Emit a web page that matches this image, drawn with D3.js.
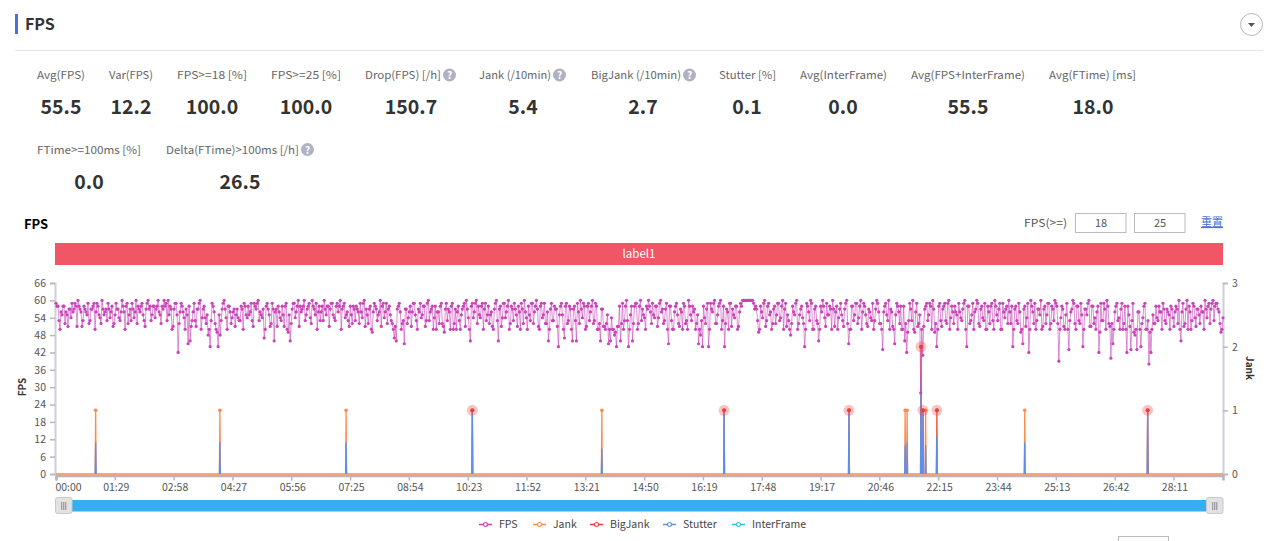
<!DOCTYPE html>
<html>
<head>
<meta charset="utf-8">
<script src="https://cdn.jsdelivr.net/npm/d3@7/dist/d3.min.js"></script>
<style>
  html, body { margin: 0; padding: 0; background: #fff; overflow: hidden; }
  text { font-family: "Noto Sans CJK SC", "Noto Sans", sans-serif; }
</style>
</head>
<body>
<svg id="page" width="1273" height="541"></svg>
<script>
// stats shown above the chart
var statLabels = ["Avg(FPS)", "Var(FPS)", "FPS>=18 [%]", "FPS>=25 [%]", "Drop(FPS) [/h]", "Jank (/10min)", "BigJank (/10min)", "Stutter [%]", "Avg(InterFrame)", "Avg(FPS+InterFrame)", "Avg(FTime) [ms]", "FTime>=100ms [%]", "Delta(FTime)>100ms [/h]"];
var statValues = ["55.5", "12.2", "100.0", "100.0", "150.7", "5.4", "2.7", "0.1", "0.0", "55.5", "18.0", "0.0", "26.5"];
var statHelp = [false, false, false, false, true, true, true, false, false, false, false, false, true];

// FPS, the dips and the spread of the band
var fpsValues = [
59,58,50,55,58,56,51,57,59,57,58,60,57,51,58,56,59,53,57,59,56,58,54,60,55,57,59,54,58,52,59,57,53,60,56,58,52,57,59,54,60,58,56,59,53,57,60,58,55,58,
57,60,55,58,60,59,60,58,50,57,59,42,56,58,54,57,45,46,53,59,51,57,60,54,58,52,48,44,59,56,50,44,48,57,60,54,58,56,54,57,55,54,53,57,59,55,58,56,53,59,
57,60,56,54,47,58,57,51,59,46,57,58,54,58,51,59,49,46,57,59,56,60,58,57,60,55,58,54,60,57,59,56,53,58,60,55,58,57,59,54,58,56,60,57,59,55,53,58,52,57,
58,56,59,54,60,57,52,58,49,59,57,55,60,58,54,59,57,55,52,47,46,58,56,52,45,57,54,58,56,59,53,57,59,55,58,53,60,56,58,54,50,56,58,52,49,59,57,50,59,52,
50,58,50,57,59,60,54,46,59,56,60,58,54,59,57,53,58,55,51,57,60,46,58,54,59,56,60,52,57,59,55,58,50,57,60,54,58,53,59,56,60,51,58,54,59,52,46,57,53,58,
57,44,58,55,47,59,53,57,46,58,46,56,60,54,58,51,59,56,60,53,58,50,46,57,51,52,45,46,50,48,44,51,46,59,53,60,44,55,46,58,59,52,60,57,54,58,60,56,59,54,
58,54,60,57,53,59,45,58,50,56,59,52,57,50,58,53,60,55,58,57,52,45,48,44,54,57,44,59,56,60,52,58,60,53,44,57,50,59,57,54,58,51,59,60,60,60,60,60,60,57,
57,49,58,54,60,53,59,56,52,58,55,59,54,60,57,51,53,48,58,55,60,52,57,54,44,59,56,60,50,57,53,46,58,60,54,59,55,57,60,51,58,54,59,53,57,60,45,50,58,55,
59,54,60,56,58,52,57,54,59,53,60,56,52,43,58,55,60,57,51,45,59,56,58,50,46,42,53,57,60,49,59,52,28,41,57,59,55,58,60,49,44,58,53,57,59,52,60,54,56,58,
55,59,54,57,60,44,58,53,59,56,60,52,57,54,59,50,56,58,53,60,55,57,50,59,54,58,60,52,44,57,53,59,49,45,58,54,42,60,56,59,53,57,60,51,58,55,59,52,57,60,
58,39,54,57,50,59,43,56,60,52,58,53,59,44,57,55,60,51,58,54,56,42,59,53,57,60,52,40,45,56,59,54,57,50,58,42,55,43,59,48,43,56,44,54,59,50,38,42,55,52,
54,58,56,59,53,57,55,58,54,56,57,60,46,59,52,60,58,50,59,54,57,55,58,56,60,54,59,57,60,58,59,56,49,54
];

// samples lying between the ones above, the band and its shorter dips
var fpsBetween = [
58,53,56,58,52,55,57,54,56,59,51,58,56,53,57,55,52,57,58,50,59,55,52,57,56,53,57,56,51,55,57,54,56,58,50,59,55,53,57,56,52,57,58,55,51,59,57,53,58,54,
58,56,52,57,58,53,55,57,51,59,55,52,59,56,50,55,58,51,56,53,57,59,50,57,54,55,50,53,58,52,49,55,53,59,57,50,58,52,56,51,57,53,58,50,58,54,55,59,51,58,
59,53,55,57,50,59,55,52,57,56,51,56,53,55,58,50,55,52,59,54,58,51,56,58,53,57,59,52,58,55,50,58,56,53,57,58,51,59,55,53,59,58,50,58,54,56,51,55,58,53,
57,52,56,59,51,55,57,50,56,58,53,56,51,59,56,52,58,53,50,51,57,59,50,53,57,52,56,51,59,55,50,56,54,58,51,59,53,57,50,58,56,52,59,51,57,53,56,58,50,57,
56,53,55,58,51,57,50,58,54,59,52,55,58,50,59,55,52,56,50,59,53,57,51,59,54,58,50,58,53,57,51,56,59,52,56,50,55,59,52,58,57,50,59,55,52,56,50,59,53,57,
51,55,59,50,58,52,58,50,57,53,59,52,57,59,50,58,53,58,52,59,50,52,57,51,50,55,50,54,50,49,51,58,52,50,58,53,50,58,52,59,50,58,53,55,50,57,58,52,55,58,
51,59,56,52,57,50,58,53,50,58,55,51,56,59,52,50,58,53,56,50,55,50,53,58,52,59,50,57,59,52,55,59,50,58,52,56,59,51,55,58,50,56,58,60,60,60,60,60,59,58,
53,50,56,59,51,58,55,50,57,52,59,53,58,50,59,55,50,52,56,59,50,55,58,52,50,58,53,59,50,58,52,50,56,58,51,55,58,50,57,56,50,57,55,51,59,52,50,58,53,59,
52,58,50,59,55,51,56,53,50,57,59,52,50,56,59,53,50,56,50,55,58,52,50,58,52,49,59,53,50,56,51,55,50,51,58,53,59,50,57,52,50,59,51,58,53,59,50,58,52,56,
50,56,53,59,50,58,52,55,50,57,59,51,58,53,50,58,52,59,50,58,53,59,50,56,57,52,56,58,50,58,52,56,50,57,51,59,50,58,52,50,57,55,50,57,52,59,50,58,53,59,
52,50,58,51,55,50,53,57,59,50,58,52,55,50,57,59,51,58,52,50,58,49,53,59,50,58,51,52,50,58,53,50,59,52,50,58,51,53,49,50,56,50,52,58,50,53,49,50,52,58,
53,56,50,57,52,56,50,57,51,58,52,50,56,51,57,50,56,53,58,51,57,52,56,50,57,58,52,59,53,59,57,52,50
];

// events on the right axis, times in seconds
var eventTimes = [60, 248, 439, 630, 826, 1011, 1200, 1285, 1288, 1309, 1312, 1316, 1333, 1466, 1652];
var jankValues = [1, 1, 1, 1, 1, 1, 1, 1, 1, 2, 1, 1, 1, 1, 1];
var bigJankValues = [0, 0, 0, 1, 0, 1, 1, 0, 0, 2, 1, 0, 1, 0, 1];
var stutterValues = [0.5, 0.5, 0.5, 1, 0.4, 1, 1, 0.45, 0.5, 1.55, 1, 0.45, 0.6, 0.5, 1];

var xTickLabels = ["00:00", "01:29", "02:58", "04:27", "05:56", "07:25", "08:54", "10:23", "11:52", "13:21", "14:50", "16:19", "17:48", "19:17", "20:46", "22:15", "23:44", "25:13", "26:42", "28:11"];
var fpsTicks = [0, 6, 12, 18, 24, 30, 36, 42, 48, 54, 60, 66];
var jankTicks = [0, 1, 2, 3];
var legendNames = ["FPS", "Jank", "BigJank", "Stutter", "InterFrame"];
var legendColors = ["#c944b8", "#ff8a4c", "#ee3a3a", "#5f8fe8", "#35bfe8"];

var totalSeconds = 1766;
var tickStep = 89;

var svg = d3.select("#page");

var x = d3.scaleLinear().domain([0, totalSeconds]).range([56, 1223]);
var yFps = d3.scaleLinear().domain([0, 66]).range([474, 283]);
var yJank = d3.scaleLinear().domain([0, 3]).range([474, 283]);

// header
svg.append("rect").attr("x", 15).attr("y", 14).attr("width", 3).attr("height", 20).attr("fill", "#4a6ee0");
svg.append("text").attr("x", 25).attr("y", 30).attr("font-size", 16).attr("font-weight", 700).attr("fill", "#333").text("FPS");
svg.append("line").attr("x1", 15).attr("x2", 1263).attr("y1", 50.5).attr("y2", 50.5).attr("stroke", "#e4e6ef");
svg.append("circle").attr("cx", 1251.5).attr("cy", 24.5).attr("r", 11).attr("fill", "#fff").attr("stroke", "#b4b6c6");
svg.append("path").attr("d", d3.line()([[1248, 23], [1255, 23], [1251.5, 27]])).attr("fill", "#555");

// stats, label left edges and value centres
var statLeft = [37, 109, 177, 271, 365, 479, 591, 719, 800, 911, 1049, 37, 166];
var statCentre = [61, 131, 212, 306, 411, 523, 643, 747, 843, 968, 1093, 89, 240];
var statRow = [0, 0, 0, 0, 0, 0, 0, 0, 0, 0, 0, 1, 1];
var statWidth = [48, 44, 70, 70, 76, 72, 90, 57, 87, 114, 87, 104, 133];

statLabels.forEach(function(label, i) {
  var top = statRow[i] * 74.5;
  svg.append("text")
    .attr("x", statLeft[i]).attr("y", 79 + top)
    .attr("font-size", 11).attr("fill", "#666")
    .attr("textLength", statWidth[i]).attr("lengthAdjust", "spacingAndGlyphs")
    .text(label);
  svg.append("text")
    .attr("x", statCentre[i]).attr("y", 114 + top)
    .attr("text-anchor", "middle")
    .attr("font-size", 19.5).attr("font-weight", 700).attr("fill", "#333")
    .text(statValues[i]);
  if (statHelp[i]) {
    var cx = statLeft[i] + statWidth[i] + 8.5;
    svg.append("circle").attr("cx", cx).attr("cy", 75 + top).attr("r", 6.5).attr("fill", "#b0b2c2");
    svg.append("text").attr("x", cx).attr("y", 79 + top).attr("text-anchor", "middle")
      .attr("font-size", 10).attr("font-weight", 700).attr("fill", "#fff").text("?");
  }
});

// chart toolbar
svg.append("text").attr("x", 24).attr("y", 229).attr("font-size", 13).attr("font-weight", 700).attr("fill", "#000").text("FPS");
svg.append("text").attr("x", 1024).attr("y", 227).attr("font-size", 11).attr("fill", "#555")
  .attr("textLength", 43).attr("lengthAdjust", "spacingAndGlyphs").text("FPS(>=)");
[[1075.5, "18"], [1134.5, "25"]].forEach(function(box) {
  svg.append("rect").attr("x", box[0]).attr("y", 213.5).attr("width", 50.5).attr("height", 19).attr("fill", "#fff").attr("stroke", "#b8bac6");
  svg.append("text").attr("x", box[0] + 25.5).attr("y", 227).attr("text-anchor", "middle").attr("font-size", 11).attr("fill", "#555").text(box[1]);
});
svg.append("text").attr("x", 1201).attr("y", 226).attr("font-size", 11).attr("fill", "#4a6ee0").attr("text-decoration", "underline").text("重置");

// label strip
svg.append("rect").attr("x", 55).attr("y", 243).attr("width", 1168).attr("height", 22).attr("fill", "#f05666");
svg.append("text").attr("x", 639).attr("y", 258).attr("text-anchor", "middle").attr("font-size", 11.5).attr("fill", "#fff").text("label1");

// axes
function styleAxis(g) {
  g.selectAll(".domain").attr("stroke", "#cdd0dc").attr("stroke-width", 2);
  g.selectAll(".tick line").attr("stroke", "#b4b8c6").attr("stroke-width", 1.5);
  g.selectAll(".tick text").attr("fill", "#555").attr("font-size", 10.5).style("font-family", "'Noto Sans CJK SC', 'Noto Sans', sans-serif");
}

svg.append("g").attr("transform", "translate(55,0)")
  .call(d3.axisLeft(yFps).tickValues(fpsTicks).tickSize(5).tickPadding(4))
  .call(styleAxis);

svg.append("g").attr("transform", "translate(1223,0)")
  .call(d3.axisRight(yJank).tickValues(jankTicks).tickFormat(d3.format("d")).tickSize(5).tickPadding(4))
  .call(styleAxis);

var bottomAxis = d3.axisBottom(x)
  .tickValues(xTickLabels.map(function(d, i) { return i * tickStep; }))
  .tickFormat(function(d, i) { return xTickLabels[i]; })
  .tickSize(5).tickPadding(3);

var xAxisGroup = svg.append("g").attr("transform", "translate(0,475.5)").call(bottomAxis).call(styleAxis);
xAxisGroup.select(".domain").attr("stroke", "#b4b4bc").attr("stroke-width", 2.5);
xAxisGroup.selectAll(".tick text").attr("dx", 1);
xAxisGroup.select(".tick text").attr("dx", 12);

svg.append("text").attr("transform", "translate(26,387) rotate(-90)").attr("text-anchor", "middle")
  .attr("font-size", 10).attr("font-weight", 700).attr("fill", "#333").text("FPS");
svg.append("text").attr("transform", "translate(1246,368) rotate(90)").attr("text-anchor", "middle")
  .attr("font-size", 10).attr("font-weight", 700).attr("fill", "#333").text("Jank");

// right axis series
var jankLine = d3.line()
  .x(function(d) { return x(d[0]); })
  .y(function(d) { return yJank(d[1]); });

function drawSpikes(values, color, opacity) {
  eventTimes.forEach(function(t, i) {
    if (values[i] > 0) {
      svg.append("path")
        .attr("d", jankLine([[t - 0.7, 0], [t, values[i]], [t + 0.7, 0]]))
        .attr("fill", "none").attr("stroke", color).attr("stroke-opacity", opacity).attr("stroke-width", 1.3);
    }
  });
}

// the zero line stays orange in the picture, the other series only show at their spikes
svg.append("path").attr("d", jankLine([[0, 0], [totalSeconds, 0]]))
  .attr("fill", "none").attr("stroke", legendColors[1]).attr("stroke-width", 1.5);
drawSpikes(jankValues, legendColors[1], 1);
drawSpikes(bigJankValues, legendColors[2], 0.5);
drawSpikes(stutterValues, legendColors[3], 1);

// FPS series
var fpsSamples = d3.merge(fpsValues.map(function(v, i) {
  return i < fpsBetween.length ? [v, fpsBetween[i]] : [v];
}));
var sampleStep = totalSeconds / (fpsSamples.length - 1);
var fpsLine = d3.line()
  .x(function(d, i) { return x(i * sampleStep); })
  .y(function(d) { return yFps(d); });

svg.append("path").attr("d", fpsLine(fpsSamples))
  .attr("fill", "none").attr("stroke", legendColors[0]).attr("stroke-opacity", 0.6).attr("stroke-width", 1);

svg.selectAll(".fps-dot")
  .data(fpsSamples)
  .enter()
  .append("circle")
  .attr("class", "fps-dot")
  .attr("cx", function(d, i) { return x(i * sampleStep); })
  .attr("cy", function(d) { return yFps(d); })
  .attr("r", 1.6)
  .attr("fill", legendColors[0]);

// event markers
svg.selectAll(".jank-dot")
  .data(eventTimes)
  .enter()
  .append("circle")
  .attr("class", "jank-dot")
  .attr("cx", function(d) { return x(d); })
  .attr("cy", function(d, i) { return yJank(jankValues[i]); })
  .attr("r", 1.8)
  .attr("fill", legendColors[1]);

eventTimes.forEach(function(t, i) {
  if (bigJankValues[i] > 0) {
    svg.append("circle").attr("cx", x(t)).attr("cy", yJank(bigJankValues[i])).attr("r", 5.5)
      .attr("fill", legendColors[2]).attr("fill-opacity", 0.3);
    svg.append("circle").attr("cx", x(t)).attr("cy", yJank(bigJankValues[i])).attr("r", 2)
      .attr("fill", legendColors[2]);
  }
});

// slider
svg.append("rect").attr("x", 62).attr("y", 500).attr("width", 1154).attr("height", 11.5).attr("fill", "#35aef2");
[55.5, 1206.5].forEach(function(hx) {
  svg.append("rect").attr("x", hx).attr("y", 497.5).attr("width", 16.5).attr("height", 16).attr("rx", 2)
    .attr("fill", "#e2e2e2").attr("stroke", "#c8c8d0");
  [-2, 0, 2].forEach(function(o) {
    svg.append("line").attr("x1", hx + 8.25 + o).attr("x2", hx + 8.25 + o).attr("y1", 502).attr("y2", 510)
      .attr("stroke", "#8a8a96");
  });
});

// legend
var legendX = [479, 533, 590, 663, 732];
legendNames.forEach(function(name, i) {
  var g = svg.append("g").attr("transform", "translate(" + legendX[i] + ",524.5)");
  g.append("line").attr("x1", 0).attr("x2", 13).attr("stroke", legendColors[i]).attr("stroke-width", 1.5);
  g.append("circle").attr("cx", 6.5).attr("r", 2).attr("fill", "#fff").attr("stroke", legendColors[i]).attr("stroke-width", 1.2);
  g.append("text").attr("x", 20).attr("y", 3.5).attr("font-size", 10.5).attr("fill", "#444").text(name);
});

// top of the next panel, cut off by the window
svg.append("rect").attr("x", 1118.5).attr("y", 536.5).attr("width", 50).attr("height", 19).attr("fill", "#fff").attr("stroke", "#b8bac6");
svg.append("text").attr("x", 1201).attr("y", 550.5).attr("font-size", 11).attr("fill", "#4a6ee0").text("重置");
</script>
</body>
</html>
